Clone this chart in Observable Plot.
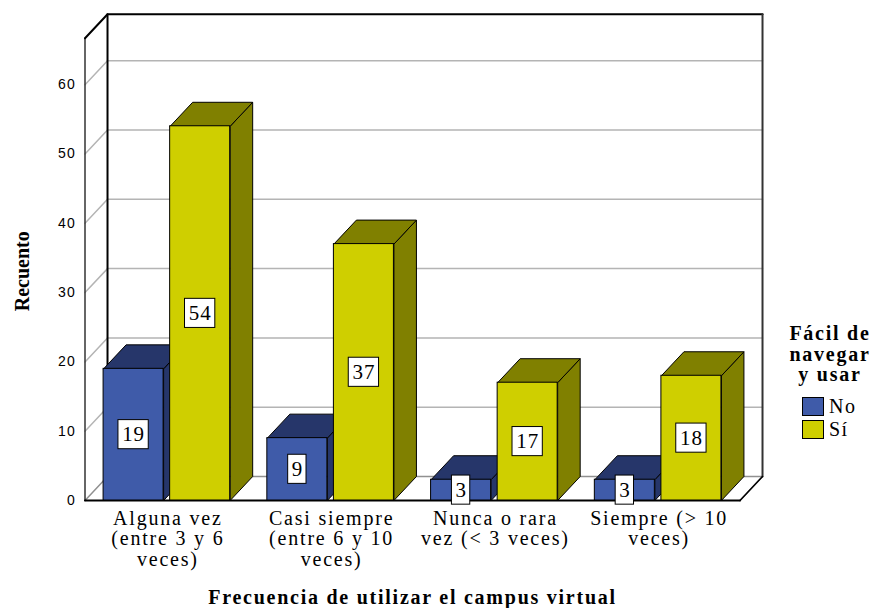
<!DOCTYPE html>
<html><head><meta charset="utf-8">
<script src="https://cdn.jsdelivr.net/npm/d3@7"></script>
<script src="https://cdn.jsdelivr.net/npm/@observablehq/plot@0.6"></script>
<style>
html,body{margin:0;padding:0;background:#fff}
#wrap{position:relative;width:874px;height:608px;overflow:hidden}
#wrap svg{position:absolute;left:0;top:0;overflow:visible}
#wrap g[aria-label="y-axis tick label"]{letter-spacing:1.2px}
#legend{position:absolute;left:770px;top:323px;width:120px;font-family:"Liberation Serif",serif;color:#000;text-align:center}
#legend .t{font-weight:bold;font-size:20px;line-height:20.5px;letter-spacing:1.75px}
#legend .r{position:absolute;left:32px;font-size:20px;letter-spacing:1.5px;line-height:20px;white-space:nowrap;text-align:left}
#legend i{display:inline-block;width:20px;height:17px;border:1px solid #000;margin-right:5px;vertical-align:-3px}
</style></head><body><div id="wrap"><div id="legend"></div></div>
<script>
const categories = ["Alguna vez\n(entre 3 y 6\nveces)","Casi siempre\n(entre 6 y 10\nveces)","Nunca o rara\nvez (< 3 veces)","Siempre (> 10\nveces)"];
const seriesNames = ["No","Sí"];
const noValues = [19,9,3,3];
const siValues = [54,37,17,18];
const yTicks = [0,10,20,30,40,50,60];
const legendTitle = ["Fácil de","navegar","y usar"];
const xTitle = "Frecuencia de utilizar el campus virtual";
const yTitle = "Recuento";
const colors = {No:{front:"#3f5ba9",top:"#26366a",side:"#26366a"},"Sí":{front:"#cfcf00",top:"#808000",side:"#808000"}};

// 3D projection offsets, in scale units
const depthX = 0.1375, depthY = 3.46, barW = 0.3665, gap = 0.04;
const wallTop = 66.7, x0 = -0.5, x1 = 3.5;

const spaced = px => (index, scales, values, dims, ctx, next) => {
  const g = next(index, scales, values, dims, ctx);
  g.style.letterSpacing = px + "px";
  return g;
};

const bars = [];
seriesNames.forEach((s,si)=>{
  (si===0?noValues:siValues).forEach((v,i)=>{
    const left = si===0 ? i-gap/2-barW : i+gap/2;
    bars.push({cat:i,series:s,value:v,left,right:left+barW});
  });
});
const poly=(id,pts)=>pts.map(([x,y])=>({id,x,y}));
const sideFaces = s=>bars.filter(b=>b.series===s).flatMap(b=>poly(b.cat,[[b.right,0],[b.right+depthX,depthY],[b.right+depthX,b.value+depthY],[b.right,b.value],[b.right,0]]));
const topFaces = s=>bars.filter(b=>b.series===s).flatMap(b=>poly(b.cat,[[b.left,b.value],[b.left+depthX,b.value+depthY],[b.right+depthX,b.value+depthY],[b.right,b.value],[b.left,b.value]]));
const barMarks = s=>[
  Plot.line(sideFaces(s),{x:"x",y:"y",z:"id",fill:colors[s].side,stroke:"#000",strokeWidth:1}),
  Plot.line(topFaces(s),{x:"x",y:"y",z:"id",fill:colors[s].top,stroke:"#000",strokeWidth:1}),
  Plot.rect(bars.filter(b=>b.series===s),{x1:"left",x2:"right",y1:0,y2:"value",fill:colors[s].front,stroke:"#000",strokeWidth:1})
];
const gridPts = yTicks.slice(1).flatMap(t=>poly(t,[[x0,t],[x0+depthX,t+depthY],[x1+depthX,t+depthY]]));
const boxH = 2.1;
const boxes = bars.map(b=>{
  const c=(b.left+b.right)/2, hw=String(b.value).length>1?0.0925:0.056;
  return {x1:c-hw,x2:c+hw,y1:b.value/2-boxH,y2:b.value/2+boxH,c,v:b.value,ym:b.value/2};
});

const chart = Plot.plot({
  width:874,height:608,
  marginLeft:84.5,marginRight:134.5,marginTop:13.5,marginBottom:108,
  x:{domain:[x0,x1],axis:null},
  y:{domain:[0,70.2],axis:null},
  marks:[
    Plot.line(gridPts,{x:"x",y:"y",z:"id",stroke:"#b4b4b4",strokeWidth:1.5}),
    Plot.line(poly(0,[[x0,0],[x0+depthX,depthY],[x1+depthX,depthY],[x1,0]]),{x:"x",y:"y",z:"id",stroke:"#909090",strokeWidth:1.5}),
    Plot.line(poly(0,[[x0,0],[x0,wallTop]]),{x:"x",y:"y",stroke:"#333",strokeWidth:1.5}),
    Plot.line(poly(0,[[x0,wallTop],[x0+depthX,wallTop+depthY],[x1+depthX,wallTop+depthY]]),{x:"x",y:"y",stroke:"#000",strokeWidth:2}),
    Plot.line(poly(0,[[x0+depthX,depthY],[x0+depthX,wallTop+depthY]]),{x:"x",y:"y",stroke:"#000",strokeWidth:2}),
    Plot.line(poly(0,[[x1+depthX,depthY],[x1+depthX,wallTop+depthY]]),{x:"x",y:"y",stroke:"#333",strokeWidth:2}),
    Plot.line(poly(0,[[x1,0],[x1+depthX,depthY]]),{x:"x",y:"y",stroke:"#000",strokeWidth:1.5}),
    Plot.line(poly(0,[[x0,0],[x1,0]]),{x:"x",y:"y",stroke:"#000",strokeWidth:2}),
    ...barMarks("No"),
    ...barMarks("Sí"),
    Plot.rect(boxes,{x1:"x1",x2:"x2",y1:"y1",y2:"y2",fill:"#fff",stroke:"#000",strokeWidth:1}),
    Plot.text(boxes,{x:"c",y:"ym",text:d=>String(d.v),render:spaced(0.8),fontFamily:"Liberation Serif",fontSize:21,fill:"#000"}),
    Plot.axisY({ticks:yTicks,tickSize:0,tickPadding:9,anchor:"left",label:null,fontFamily:"Liberation Sans",fontSize:14,fill:"#000"}),
    Plot.text(categories,{x:(d,i)=>i,y:()=>0,text:d=>d,dy:9.5,dx:1,lineAnchor:"top",lineHeight:1.025,render:spaced(1.8),fontFamily:"Liberation Serif",fontSize:20,fill:"#000"}),
    Plot.text([xTitle],{frameAnchor:"bottom-left",text:d=>d,dx:-84.5+412,dy:103,textAnchor:"middle",render:spaced(1.75),fontFamily:"Liberation Serif",fontWeight:"bold",fontSize:20,fill:"#000"}),
    Plot.text([yTitle],{frameAnchor:"left",text:d=>d,rotate:-90,dx:-62,dy:14,textAnchor:"middle",fontFamily:"Liberation Serif",fontWeight:"bold",fontSize:20,fill:"#000"})
  ]
});
const wrap=document.getElementById("wrap");
wrap.appendChild(chart);
const lg=document.getElementById("legend");
lg.innerHTML=legendTitle.map(t=>`<div class="t">${t}</div>`).join("")+
 seriesNames.map((s,i)=>`<div class="r" style="top:${72.5+i*23}px"><i style="background:${colors[s].front}"></i>${s}</div>`).join("");
wrap.appendChild(lg);
</script></body></html>
